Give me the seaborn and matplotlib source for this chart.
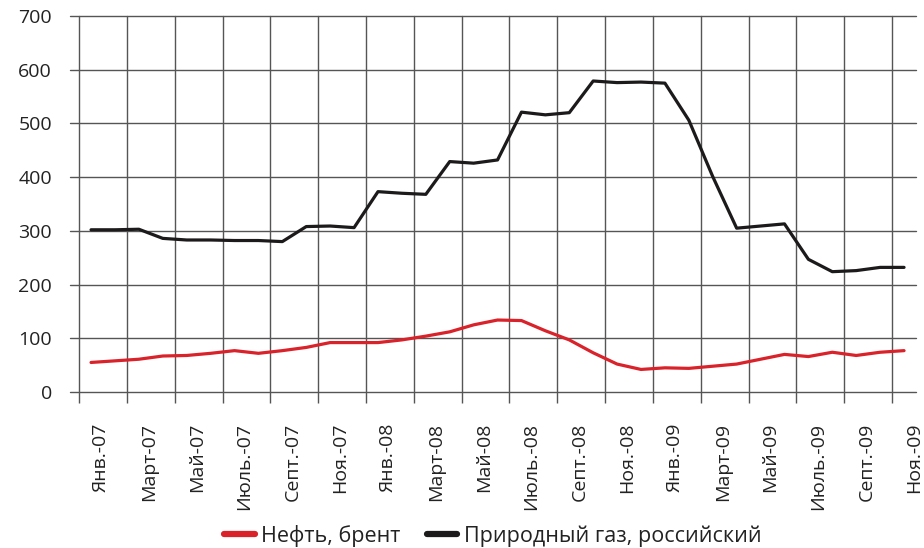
import numpy as np
import pandas as pd
import matplotlib
matplotlib.use('Agg')
import matplotlib.pyplot as plt
import matplotlib.transforms as mtransforms
import seaborn as sns

# monthly values, Jan 2007 .. Nov 2009
months = ['Янв.-07', 'Февр.-07', 'Март-07', 'Апр.-07', 'Май-07', 'Июнь-07', 'Июль.-07', 'Авг.-07',
          'Септ.-07', 'Окт.-07', 'Ноя.-07', 'Дек.-07',
          'Янв.-08', 'Февр.-08', 'Март-08', 'Апр.-08', 'Май-08', 'Июнь-08', 'Июль.-08', 'Авг.-08',
          'Септ.-08', 'Окт.-08', 'Ноя.-08', 'Дек.-08',
          'Янв.-09', 'Февр.-09', 'Март-09', 'Апр.-09', 'Май-09', 'Июнь-09', 'Июль.-09', 'Авг.-09',
          'Септ.-09', 'Окт.-09', 'Ноя.-09']
brent = [55, 58, 61, 67, 68, 72, 77, 72, 77, 83, 92, 92,
         92, 97, 104, 112, 125, 134, 133, 114, 97, 73, 52, 42,
         45, 44, 48, 52, 61, 70, 66, 74, 68, 74, 77]
gas = [302, 302, 303, 286, 283, 283, 282, 282, 280, 308, 309, 306,
       373, 370, 368, 429, 426, 432, 521, 516, 520, 579, 576, 577,
       575, 506, 401, 305, 309, 313, 247, 224, 226, 232, 232]
series_names = ['Нефть, брент', 'Природный газ, российский']
colors = ['#d9222a', '#1c1a1a']

df = pd.DataFrame({'m': range(len(months)), series_names[0]: brent, series_names[1]: gas})
long = df.melt(id_vars='m', var_name='series', value_name='value')

sns.set_style('white')
plt.rcParams['font.family'] = ['Open Sans', 'DejaVu Sans']

fig = plt.figure(figsize=(9.24, 5.48), dpi=100)
ax = fig.add_axes([70 / 924, 1 - 392 / 548, 846 / 924, 376 / 548])

sns.lineplot(data=long, x='m', y='value', hue='series', palette=colors,
             linewidth=2.3, ax=ax, legend=False)

ax.set_xlim(-0.88, 34.5)
ax.set_ylim(0, 700)
ax.set_yticks(range(0, 701, 100))
ax.set_xlabel('')
ax.set_ylabel('')
for s in ax.spines.values():
    s.set_visible(False)

# gridlines / ticks on boundaries of every second month
ticks = [i - 0.5 for i in range(0, len(months), 2)]
ax.set_xticks(ticks)
ax.set_xticklabels([months[i] for i in range(0, len(months), 2)], rotation=90,
                   fontsize=14, color='#222')
ax.tick_params(axis='x', length=8, width=1, color='#555', pad=14, direction='out', bottom=True)
ax.tick_params(axis='y', length=0, pad=13, labelsize=14, labelcolor='#222')
ax.grid(True, color='#555', linewidth=1)
ax.set_axisbelow(True)
for gl in ax.get_ygridlines() + ax.get_xgridlines():
    gl.set_clip_on(False)

offset = mtransforms.ScaledTranslation(22 / 100, 0, fig.dpi_scale_trans)
for lbl in ax.get_xticklabels():
    lbl.set_transform(lbl.get_transform() + offset)

handles = [plt.Line2D([], [], color=c, linewidth=4.5) for c in colors]
fig.legend(handles, series_names, loc='center', bbox_to_anchor=(493 / 924, 1 - 536 / 548),
           ncol=2, frameon=False, fontsize=15.5,
           handlelength=1.4, handletextpad=0.3, columnspacing=1.25, labelcolor='#222')

fig.savefig('out.png', dpi=100)
